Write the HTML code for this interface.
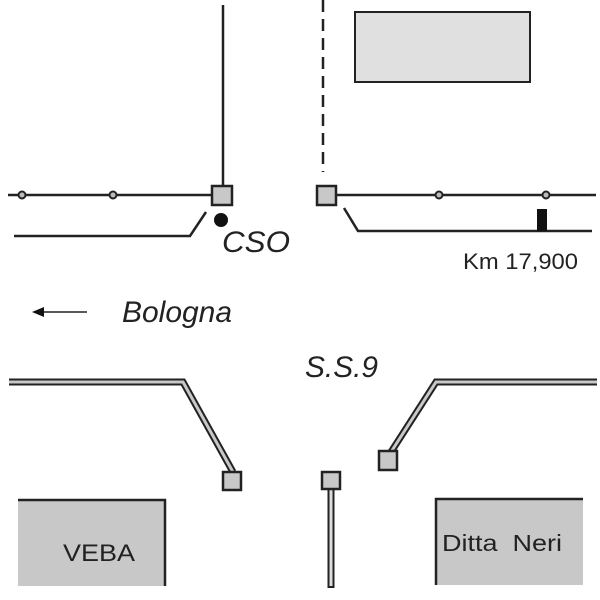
<!DOCTYPE html>
<html><head><style>body{margin:0;background:#fff}svg{display:block}</style></head><body>
<svg width="600" height="600" viewBox="0 0 600 600" xmlns="http://www.w3.org/2000/svg" font-family="Liberation Sans, sans-serif">
<rect x="355" y="12" width="175" height="70" fill="#e0e0e0" stroke="#222" stroke-width="2"/>
<line x1="223" y1="5" x2="223" y2="186" stroke="#222" stroke-width="2.5"/>
<line x1="323" y1="0" x2="323" y2="172" stroke="#222" stroke-width="2.5" stroke-dasharray="12,7"/>
<line x1="8" y1="195" x2="212" y2="195" stroke="#222" stroke-width="2.5"/>
<circle cx="22" cy="195" r="3.5" fill="#bbb" stroke="#222" stroke-width="2"/>
<circle cx="113" cy="195" r="3.5" fill="#bbb" stroke="#222" stroke-width="2"/>
<polyline points="14,236 190,236 206,212" fill="none" stroke="#222" stroke-width="2.5"/>
<rect x="212" y="186" width="20" height="19" fill="#c8c8c8" stroke="#222" stroke-width="2.5"/>
<circle cx="221" cy="220" r="7" fill="#111"/>
<text x="222" y="252" font-size="30" font-style="italic" fill="#222" textLength="68" lengthAdjust="spacingAndGlyphs">CSO</text>
<rect x="317" y="186" width="19" height="19" fill="#c8c8c8" stroke="#222" stroke-width="2.5"/>
<line x1="336" y1="195" x2="596" y2="195" stroke="#222" stroke-width="2.5"/>
<circle cx="439" cy="195" r="3.5" fill="#bbb" stroke="#222" stroke-width="2"/>
<circle cx="546" cy="195" r="3.5" fill="#bbb" stroke="#222" stroke-width="2"/>
<polyline points="344,208 358,231 592,231" fill="none" stroke="#222" stroke-width="2.5"/>
<rect x="537" y="209" width="10" height="22" fill="#111"/>
<text x="463" y="269" font-size="22" fill="#222" textLength="115" lengthAdjust="spacingAndGlyphs">Km 17,900</text>
<line x1="40" y1="312" x2="87" y2="312" stroke="#222" stroke-width="1.5"/>
<polygon points="32,312 44,307 44,317" fill="#111"/>
<text x="122" y="322" font-size="30" font-style="italic" fill="#222" textLength="110" lengthAdjust="spacingAndGlyphs">Bologna</text>
<text x="305" y="377" font-size="30" font-style="italic" fill="#222" textLength="73" lengthAdjust="spacingAndGlyphs">S.S.9</text>
<g fill="none" stroke-linejoin="miter">
<polyline points="9,382 183,382 233,472" stroke="#222" stroke-width="7"/>
<polyline points="9,382 183,382 233,472" stroke="#c8c8c8" stroke-width="3"/>
<polyline points="391,452 436,382 597,382" stroke="#222" stroke-width="7"/>
<polyline points="391,452 436,382 597,382" stroke="#c8c8c8" stroke-width="3"/>
<line x1="331" y1="488" x2="331" y2="588" stroke="#222" stroke-width="7"/>
<line x1="331" y1="488" x2="331" y2="586" stroke="#ddd" stroke-width="3"/>
</g>
<rect x="223" y="472" width="18" height="18" fill="#c8c8c8" stroke="#222" stroke-width="2.5"/>
<rect x="322" y="472" width="18" height="17" fill="#c8c8c8" stroke="#222" stroke-width="2.5"/>
<rect x="379" y="451" width="18" height="19" fill="#c8c8c8" stroke="#222" stroke-width="2.5"/>
<rect x="18" y="500" width="147" height="86" fill="#c8c8c8"/>
<polyline points="18,500 165,500 165,586" fill="none" stroke="#222" stroke-width="2.5"/>
<text x="63" y="561" font-size="24" fill="#222" textLength="72" lengthAdjust="spacingAndGlyphs">VEBA</text>
<rect x="436" y="499" width="147" height="86" fill="#c8c8c8"/>
<polyline points="436,585 436,499 583,499" fill="none" stroke="#222" stroke-width="2.5"/>
<text x="442" y="551" font-size="23" fill="#222" xml:space="preserve" textLength="120" lengthAdjust="spacingAndGlyphs">Ditta  Neri</text>
</svg>
</body></html>
